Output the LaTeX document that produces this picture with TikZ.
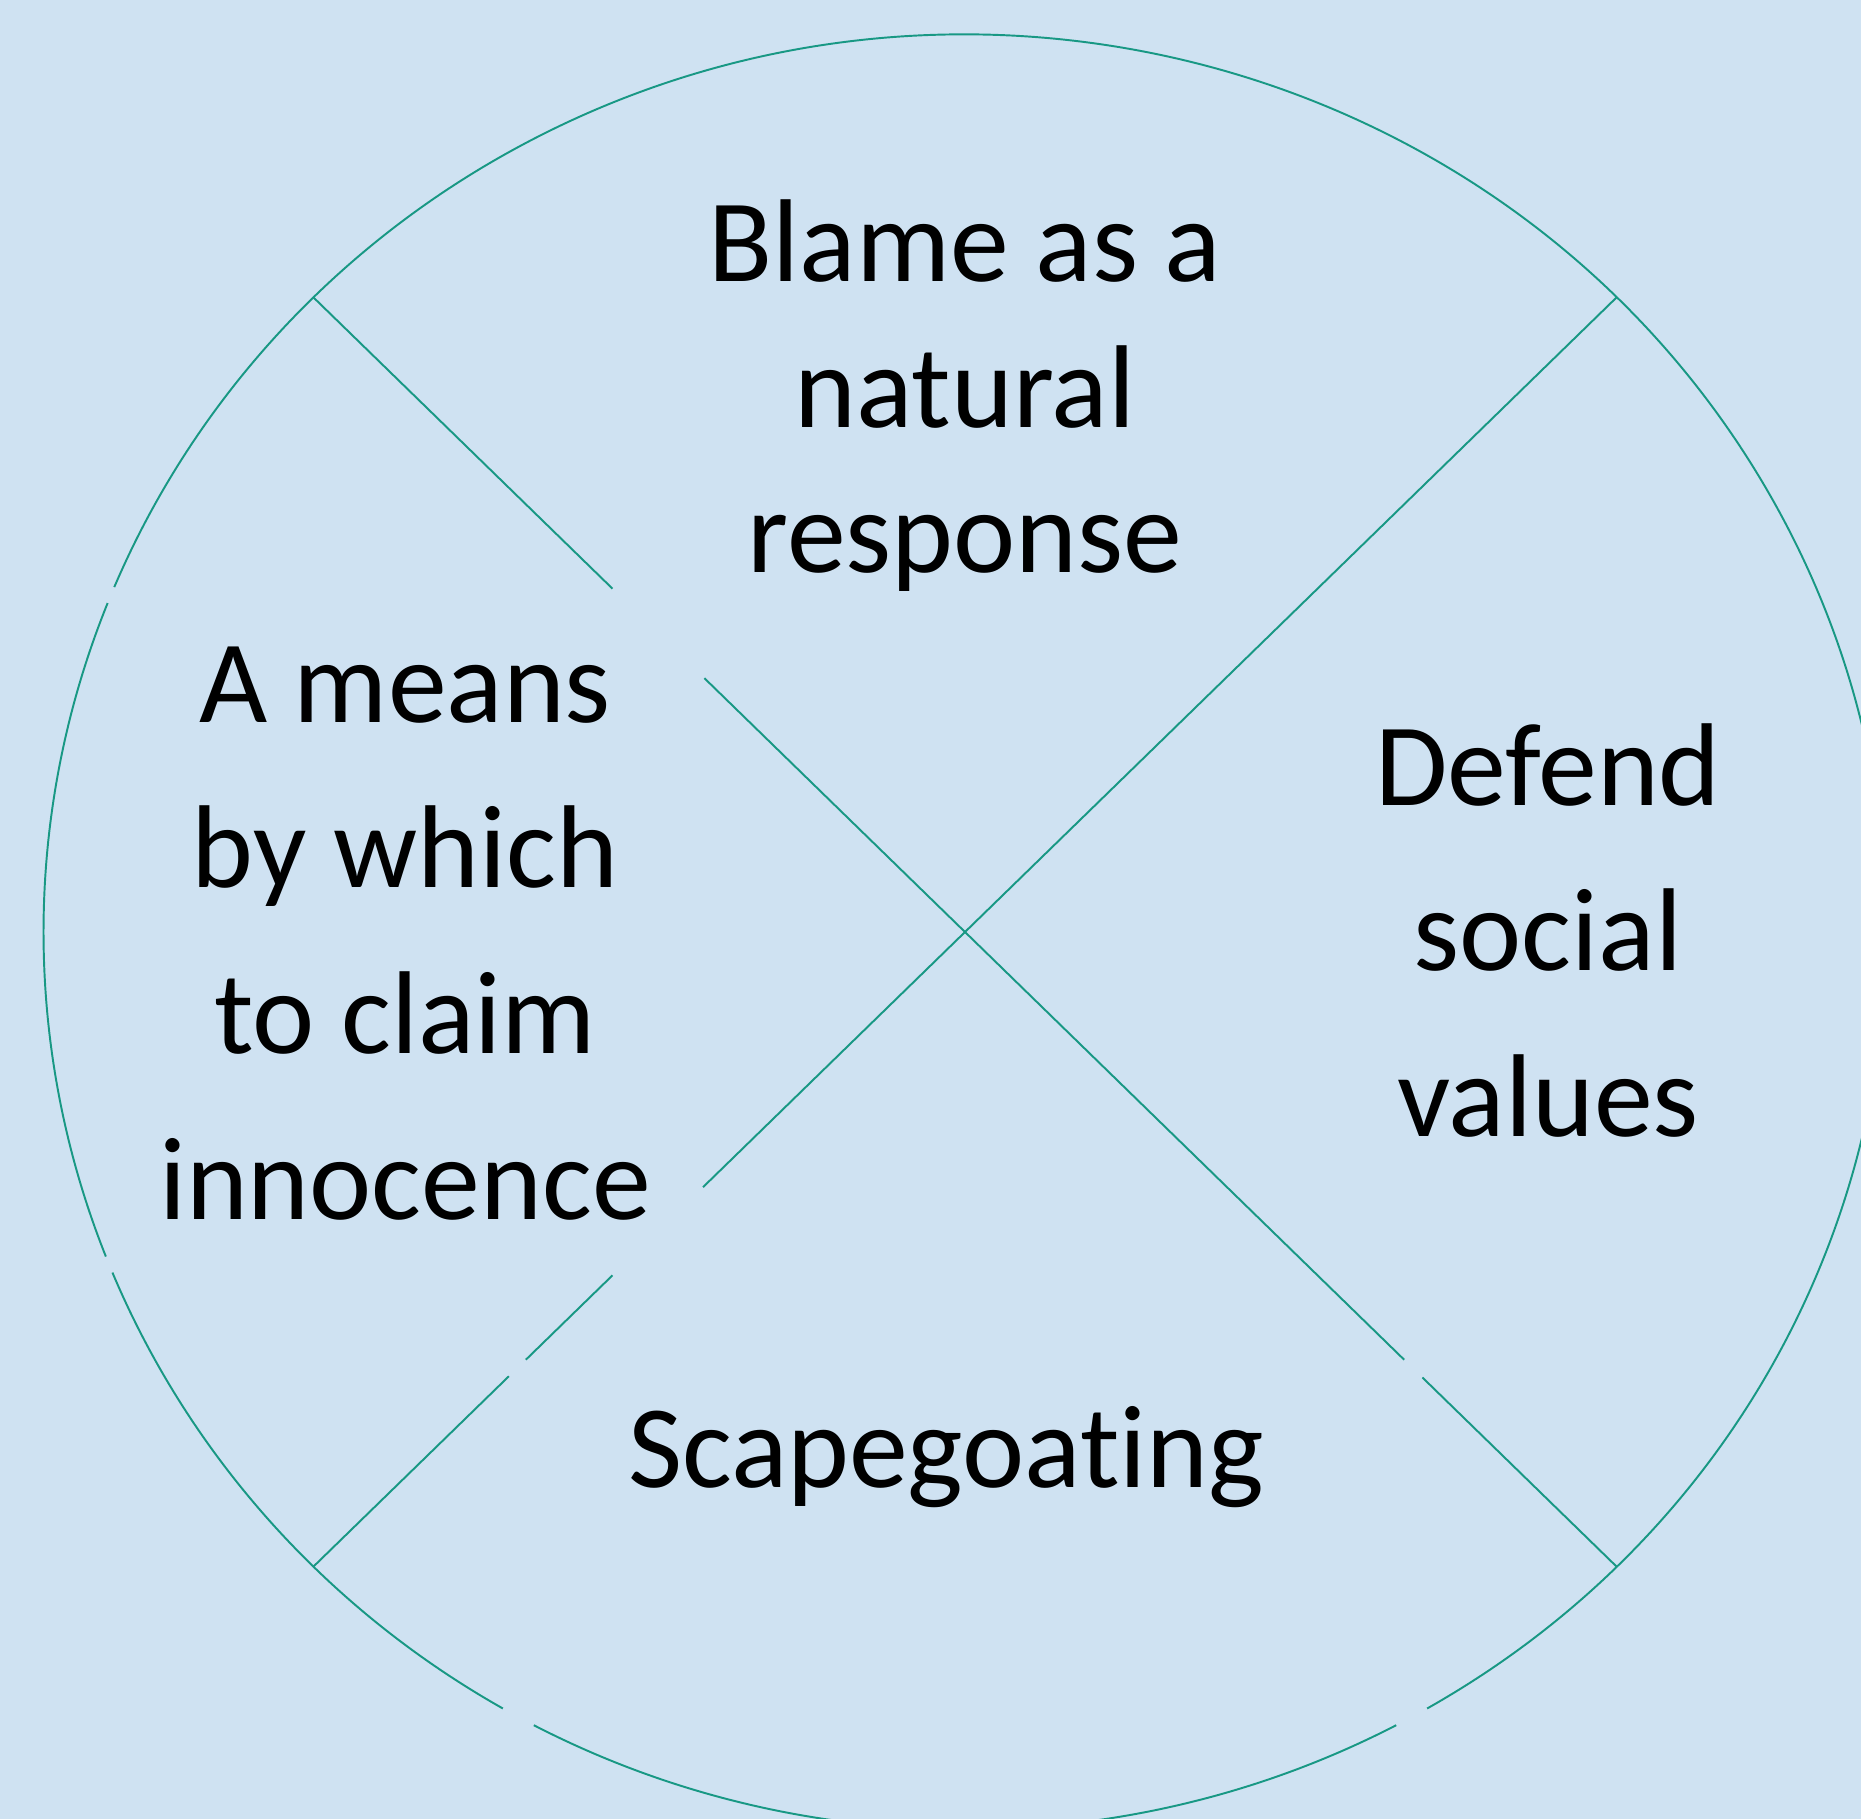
\documentclass[tikz,border=0pt]{standalone}
\usepackage{fontspec}
\setmainfont{Carlito}[Ligatures={NoCommon}]
\usetikzlibrary{calc}
\definecolor{bgblue}{RGB}{207,226,242}
\definecolor{teal}{RGB}{24,152,132}
\begin{document}
\begin{tikzpicture}[x=0.01cm,y=0.01cm,
  rim/.style={draw=teal,line width=0.55pt},
  lbl/.style={inner sep=0pt,anchor=base,text=black}]
\useasboundingbox (0,0) rectangle (1861,-1819);
\fill[bgblue] (0,0) rectangle (1861,-1819);
\clip (0,0) rectangle (1861,-1819);
\coordinate (C) at (965,-932);
\coordinate (TL) at ($(C)+(135:9.21cm and 8.97cm)$);
\coordinate (TR) at ($(C)+(45:9.21cm and 8.97cm)$);
\coordinate (BL) at ($(C)+(225:9.21cm and 8.97cm)$);
\coordinate (BR) at ($(C)+(315:9.21cm and 8.97cm)$);
% ellipse in four arcs
\draw[rim] ($(C)+(158.5:9.21cm and 8.97cm)$) arc[start angle=158.5,end angle=201.2,x radius=9.21cm,y radius=8.97cm];
\draw[rim] ($(C)+(202.3:9.21cm and 8.97cm)$) arc[start angle=202.3,end angle=239.9,x radius=9.21cm,y radius=8.97cm];
\draw[rim] ($(C)+(242.1:9.21cm and 8.97cm)$) arc[start angle=242.1,end angle=297.9,x radius=9.21cm,y radius=8.97cm];
\draw[rim] ($(C)+(300.1:9.21cm and 8.97cm)$) arc[start angle=300.1,end angle=517.4,x radius=9.21cm,y radius=8.97cm];
% diagonals
\draw[rim] (TL) -- ($(TL)!0.2295!(BR)$);
\draw[rim] ($(TL)!0.300!(BR)$) -- ($(TL)!0.837!(BR)$);
\draw[rim] ($(TL)!0.851!(BR)$) -- (BR);
\draw[rim] (BL) -- ($(BL)!0.150!(TR)$);
\draw[rim] ($(BL)!0.163!(TR)$) -- ($(BL)!0.2295!(TR)$);
\draw[rim] ($(BL)!0.299!(TR)$) -- (TR);
% labels
\node[lbl] (top) at (965,-282) {\fontsize{33.5}{41.3}\selectfont\setlength{\tabcolsep}{0pt}\begin{tabular}[t]{c}Blame as a\\natural\\response\end{tabular}};
\node[lbl] (left) at (405,-722) {\fontsize{33.5}{47.2}\selectfont\setlength{\tabcolsep}{0pt}\begin{tabular}[t]{c}A means\\by which\\to claim\\innocence\end{tabular}};
\node[lbl] (right) at (1548,-805) {\fontsize{33.5}{47.2}\selectfont\setlength{\tabcolsep}{0pt}\begin{tabular}[t]{c}Defend\\social\\values\end{tabular}};
\node[lbl] (bottom) at (946,-1487) {\fontsize{33.5}{41.3}\selectfont Scapegoating};
\end{tikzpicture}
\end{document}
